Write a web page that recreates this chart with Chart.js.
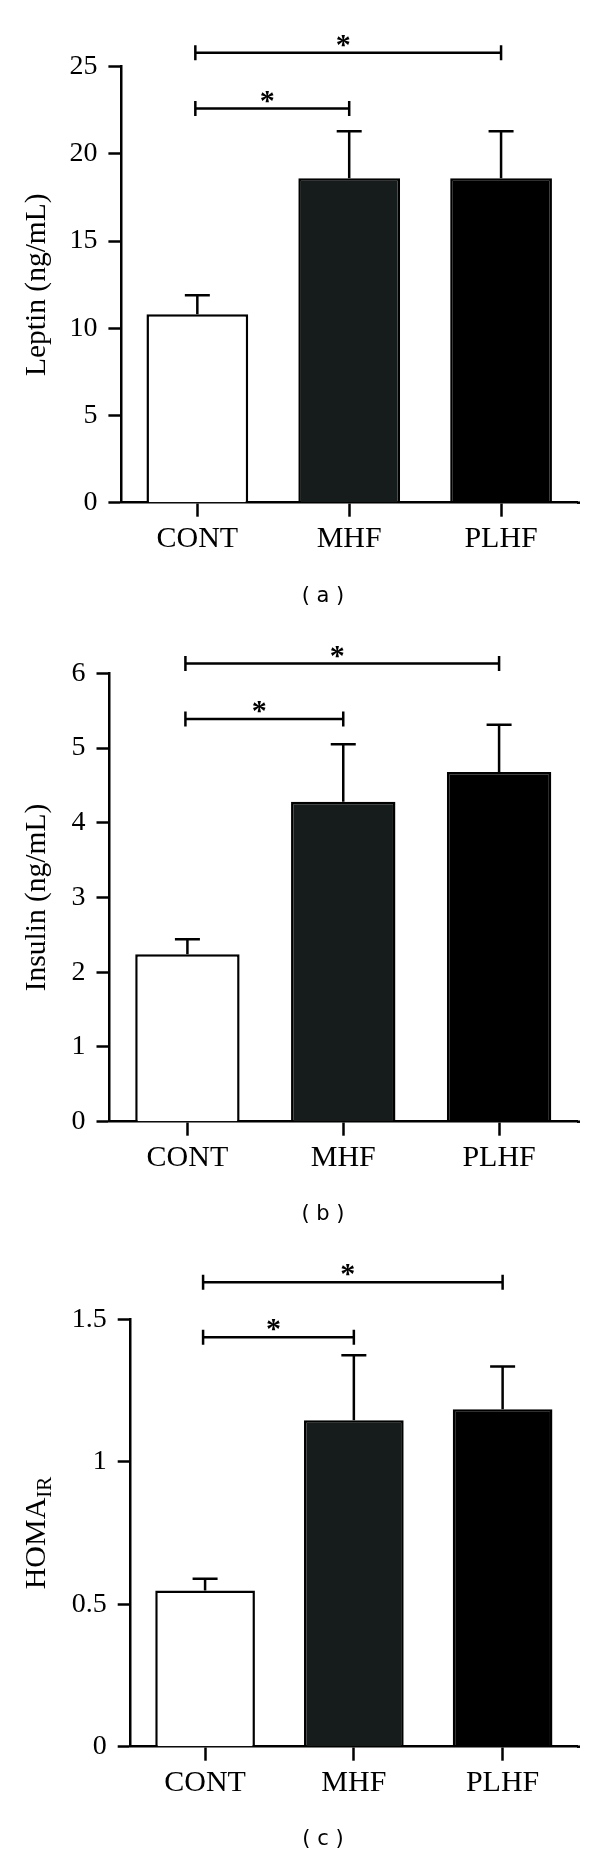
<!DOCTYPE html>
<html>
<head>
<meta charset="utf-8">
<script src="https://cdn.jsdelivr.net/npm/chart.js@4.4.1/dist/chart.umd.min.js"></script>
<style>
  body { margin: 0; background: #fff; }
  #wrap { position: relative; width: 600px; height: 1853px; }
  #wrap canvas { position: absolute; left: 0; }
  .cap {
    position: absolute;
    font-family: "DejaVu Sans", sans-serif;
    font-size: 21px;
    color: #000;
    white-space: pre;
    transform: translate(-50%, -50%);
  }
</style>
</head>
<body>
<div id="wrap">
  <canvas id="chartA" width="600" height="600" style="top:0px"></canvas>
  <canvas id="chartB" width="600" height="620" style="top:600px"></canvas>
  <canvas id="chartC" width="600" height="633" style="top:1220px"></canvas>
  <div class="cap" style="left:323px; top:595px">( a )</div>
  <div class="cap" style="left:323px; top:1213px">( b )</div>
  <div class="cap" style="left:323px; top:1838px">( c )</div>
</div>

<script>
// ---- data ----
const groups = ['CONT', 'MHF', 'PLHF'];

const leptinMean  = [10.8, 18.6, 18.6];
const leptinSem   = [1.1, 2.7, 2.7];
const insulinMean = [2.24, 4.28, 4.68];
const insulinSem  = [0.2, 0.77, 0.63];
const homaMean    = [0.548, 1.146, 1.184];
const homaSem     = [0.041, 0.228, 0.15];

// significance brackets: [from group, to group, height in axis units]
const leptinSig  = [[0, 2, 25.8], [0, 1, 22.6]];
const insulinSig = [[0, 2, 6.13], [0, 1, 5.39]];
const homaSig    = [[0, 2, 1.63], [0, 1, 1.437]];

const leptinTicks  = ['0', '5', '10', '15', '20', '25'];
const insulinTicks = ['0', '1', '2', '3', '4', '5', '6'];
const homaTicks    = ['0', '0.5', '1', '1.5'];

const barColors = ['#ffffff', '#161c1c', '#000000'];

const SERIF = '"Liberation Serif", "Times New Roman", serif';

// ---- error bars, brackets, stars, custom title ----
const annotate = {
  id: 'annotate',
  afterDatasetsDraw(chart, args, opts) {
    const ctx = chart.ctx;
    const y = chart.scales.y;
    const area = chart.chartArea;
    const bars = chart.getDatasetMeta(0).data;
    ctx.save();
    ctx.strokeStyle = '#000';
    ctx.lineWidth = 2.5;

    // x axis line runs a little past the last category
    ctx.beginPath();
    ctx.moveTo(area.right, area.bottom);
    ctx.lineTo(area.right + 3, area.bottom);
    ctx.stroke();

    bars.forEach((bar, i) => {
      const top = y.getPixelForValue(opts.mean[i] + opts.sem[i]);
      ctx.beginPath();
      ctx.moveTo(bar.x, bar.y);
      ctx.lineTo(bar.x, top);
      ctx.moveTo(bar.x - 12.5, top);
      ctx.lineTo(bar.x + 12.5, top);
      ctx.stroke();
    });

    ctx.fillStyle = '#000';
    ctx.font = 'bold 30px ' + SERIF;
    ctx.textAlign = 'center';
    ctx.textBaseline = 'alphabetic';
    opts.sig.forEach(([a, b, v]) => {
      const x1 = bars[a].x - 2, x2 = bars[b].x;
      const py = y.getPixelForValue(v);
      ctx.beginPath();
      ctx.moveTo(x1, py); ctx.lineTo(x2, py);
      ctx.moveTo(x1, py - 7.5); ctx.lineTo(x1, py + 7.5);
      ctx.moveTo(x2, py - 7.5); ctx.lineTo(x2, py + 7.5);
      ctx.stroke();
      ctx.fillText('*', (x1 + x2) / 2 - 5, py + 1);
    });

    // HOMA with subscript IR
    if (opts.subTitle) {
      const midY = (y.top + y.bottom) / 2;
      ctx.translate(37, midY);
      ctx.rotate(-Math.PI / 2);
      ctx.textAlign = 'left';
      ctx.textBaseline = 'middle';
      ctx.font = '30px ' + SERIF;
      const w1 = ctx.measureText(opts.subTitle[0]).width;
      ctx.font = '21px ' + SERIF;
      const w2 = ctx.measureText(opts.subTitle[1]).width;
      const x0 = -(w1 + w2) / 2;
      ctx.font = '30px ' + SERIF;
      ctx.fillText(opts.subTitle[0], x0, 0);
      ctx.font = '21px ' + SERIF;
      ctx.fillText(opts.subTitle[1], x0 + w1, 8);
    }
    ctx.restore();
  }
};

// box = chart area edges in canvas pixels
function makeChart(id, mean, sem, sig, tickLabels, title, box) {
  const canvas = document.getElementById(id);
  const H = canvas.height;
  const tickVals = tickLabels.map(Number);
  return new Chart(canvas, {
    type: 'bar',
    data: {
      labels: groups,
      datasets: [{
        data: mean,
        backgroundColor: barColors,
        borderColor: '#000',
        borderWidth: 2.5,
        barPercentage: 0.67,
        categoryPercentage: 1
      }]
    },
    options: {
      responsive: false,
      animation: false,
      events: [],
      layout: { padding: { top: box.top, right: 600 - box.right, bottom: 0, left: 0 } },
      plugins: {
        legend: { display: false },
        tooltip: { enabled: false },
        annotate: { mean, sem, sig, subTitle: Array.isArray(title) ? title : null }
      },
      scales: {
        x: {
          grid: { offset: false, drawOnChartArea: false, tickLength: 14, tickWidth: 2.5, tickColor: '#000' },
          border: { color: '#000', width: 2.5 },
          ticks: { color: '#000', font: { family: SERIF, size: 30 }, padding: 4, maxRotation: 0 },
          afterFit: s => { s.height = H - box.bottom; }
        },
        y: {
          min: 0,
          max: tickVals[tickVals.length - 1],
          afterBuildTicks: s => { s.ticks = tickVals.map(v => ({ value: v })); },
          grid: { drawOnChartArea: false, tickLength: 13, tickWidth: 2.5, tickColor: '#000' },
          border: { color: '#000', width: 2.5 },
          ticks: {
            color: '#000',
            font: { family: SERIF, size: 28 },
            padding: 11,
            callback: (v, i) => tickLabels[i]
          },
          title: {
            display: !Array.isArray(title),
            text: Array.isArray(title) ? '' : title,
            color: '#000',
            font: { family: SERIF, size: 29.5 },
            padding: { top: 20, bottom: 0 }
          },
          afterFit: s => { s.width = box.left; }
        }
      }
    },
    plugins: [annotate]
  });
}

makeChart('chartA', leptinMean, leptinSem, leptinSig, leptinTicks, 'Leptin (ng/mL)',
  { top: 66.7, bottom: 502.7, left: 121.4, right: 577 });
makeChart('chartB', insulinMean, insulinSem, insulinSig, insulinTicks, 'Insulin (ng/mL)',
  { top: 73.3, bottom: 521.7, left: 109.5, right: 577 });
makeChart('chartC', homaMean, homaSem, homaSig, homaTicks, ['HOMA', 'IR'],
  { top: 99.3, bottom: 526.7, left: 130.7, right: 577 });
</script>
</body>
</html>
